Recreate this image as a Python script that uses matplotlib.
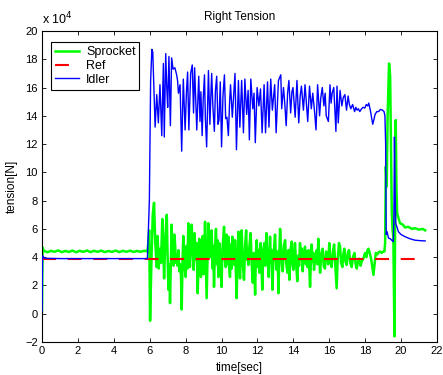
import matplotlib
matplotlib.use('Agg')
import matplotlib.pyplot as plt
import numpy as np

plt.rcParams['font.family'] = ['Liberation Sans', 'DejaVu Sans']

# tension values in units of 1e4 N
sprocket_pts = [
    (0.0, 0.2), (0.03, 4.7), (0.1, 4.45), (0.3, 4.35), (0.5, 4.45), (0.7, 4.38), (0.9, 4.48),
    (1.1, 4.36), (1.3, 4.44), (1.5, 4.37), (1.7, 4.47), (1.9, 4.35), (2.1, 4.45), (2.3, 4.38),
    (2.5, 4.47), (2.7, 4.36), (2.9, 4.45), (3.1, 4.38), (3.3, 4.46), (3.5, 4.36), (3.7, 4.44),
    (3.9, 4.37), (4.1, 4.47), (4.3, 4.36), (4.5, 4.45), (4.7, 4.38), (4.9, 4.46), (5.1, 4.37),
    (5.3, 4.44), (5.5, 4.38), (5.7, 4.46), (5.87, 4.4),
    (5.92, 5.0), (5.97, 5.9), (6.02, -0.5), (6.1, 4.0), (6.17, 7.0), (6.24, 7.85), (6.31, 5.0),
    (6.39, 3.3), (6.44, 5.5), (6.5, 3.2), (6.57, 4.6), (6.63, 3.6), (6.7, 6.7), (6.76, 4.5),
    (6.8, 2.5), (6.87, 5.4), (6.95, 7.0), (7.0, 3.8), (7.04, 1.7), (7.09, 3.5), (7.13, 0.75),
    (7.22, 6.3), (7.27, 4.0), (7.32, 3.4), (7.37, 5.6), (7.41, 5.0), (7.46, 3.6), (7.5, 4.2),
    (7.55, 3.4), (7.6, 4.5), (7.65, 3.0), (7.69, 3.5), (7.74, 2.8), (7.78, 0.3), (7.83, 3.8),
    (7.87, 5.5), (7.93, 3.5), (8.0, 2.6), (8.05, 4.8), (8.1, 3.2), (8.15, 6.4), (8.2, 4.5),
    (8.24, 3.3), (8.29, 5.0), (8.34, 6.3), (8.4, 4.2), (8.45, 3.1), (8.5, 5.7), (8.56, 3.8),
    (8.62, 5.0), (8.67, 1.45), (8.72, 3.5), (8.76, 5.3), (8.8, 4.5), (8.85, 2.6), (8.9, 3.3),
    (8.95, 5.5), (9.0, 2.8), (9.05, 4.6), (9.08, 6.5), (9.13, 3.5), (9.17, 1.1), (9.22, 4.0),
    (9.26, 6.4), (9.31, 4.8), (9.36, 4.0), (9.4, 5.0), (9.45, 5.9), (9.5, 3.2), (9.54, 4.8),
    (9.58, 1.9), (9.63, 4.5), (9.69, 6.0), (9.74, 3.5), (9.78, 5.2), (9.82, 2.6), (9.87, 5.0),
    (9.91, 4.2), (9.96, 3.0), (10.0, 1.9), (10.05, 4.6), (10.1, 5.4), (10.14, 6.15), (10.19, 3.8),
    (10.23, 3.3), (10.28, 5.6), (10.33, 3.5), (10.38, 5.45), (10.42, 3.4), (10.47, 2.6),
    (10.52, 4.9), (10.56, 3.2), (10.6, 5.45), (10.66, 4.2), (10.71, 3.45), (10.75, 5.2),
    (10.8, 2.9), (10.84, 1.1), (10.89, 4.0), (10.94, 5.8), (10.99, 3.6), (11.03, 2.5),
    (11.08, 4.6), (11.12, 5.9), (11.18, 3.6), (11.25, 2.4), (11.31, 4.8), (11.37, 5.9),
    (11.42, 3.8), (11.46, 4.6), (11.5, 3.45), (11.56, 4.9), (11.62, 5.7), (11.68, 3.5),
    (11.74, 2.2), (11.8, 4.3), (11.87, 1.35), (11.91, 4.0), (11.96, 5.2), (12.01, 3.3),
    (12.06, 4.5), (12.11, 2.9), (12.18, 5.0), (12.22, 3.5), (12.27, 1.7), (12.32, 4.4),
    (12.38, 5.0), (12.43, 3.4), (12.5, 5.7), (12.56, 3.9), (12.63, 2.6), (12.7, 5.45),
    (12.75, 3.6), (12.79, 4.5), (12.83, 1.7), (12.9, 4.2), (12.98, 5.6), (13.03, 3.8),
    (13.07, 3.1), (13.12, 4.4), (13.17, 1.45), (13.22, 4.2), (13.26, 6.0), (13.31, 4.6),
    (13.36, 3.5), (13.41, 3.0), (13.47, 4.8), (13.54, 5.2), (13.6, 3.6), (13.67, 2.9),
    (13.72, 4.5), (13.78, 2.4), (13.85, 4.6), (13.91, 5.1), (13.95, 3.6), (14.0, 3.1),
    (14.05, 4.2), (14.09, 5.0), (14.15, 3.6), (14.22, 2.3), (14.27, 4.1), (14.32, 3.4),
    (14.37, 5.0), (14.42, 3.8), (14.47, 4.6), (14.52, 3.0), (14.58, 4.2), (14.65, 4.75),
    (14.7, 3.5), (14.74, 4.4), (14.78, 3.3), (14.85, 4.5), (14.93, 1.9), (14.98, 3.9),
    (15.02, 4.9), (15.07, 3.7), (15.11, 4.3), (15.15, 3.1), (15.22, 4.1), (15.3, 4.5),
    (15.34, 3.5), (15.39, 5.3), (15.44, 3.9), (15.49, 2.9), (15.55, 4.2), (15.63, 4.6),
    (15.69, 3.4), (15.76, 3.2), (15.82, 4.4), (15.89, 4.2), (15.94, 3.5), (16.0, 5.0),
    (16.06, 3.7), (16.13, 3.3), (16.2, 4.4), (16.27, 4.9), (16.33, 3.6), (16.41, 1.8),
    (16.47, 3.9), (16.54, 5.0), (16.6, 4.75), (16.66, 3.6), (16.73, 3.3), (16.78, 4.2),
    (16.84, 4.6), (16.9, 3.7), (16.97, 3.45), (17.03, 4.3), (17.1, 4.5), (17.17, 3.6),
    (17.25, 3.3), (17.32, 4.0), (17.4, 4.3), (17.47, 3.5), (17.53, 3.2), (17.6, 3.7),
    (17.66, 3.9), (17.74, 3.4), (17.81, 3.7), (17.9, 3.9), (17.99, 4.3), (18.07, 4.0),
    (18.13, 4.5), (18.18, 4.6), (18.25, 4.3), (18.33, 3.9), (18.4, 3.3), (18.46, 2.75),
    (18.53, 3.6), (18.59, 4.3), (18.68, 4.2), (18.75, 4.35), (18.83, 4.4), (18.92, 4.3),
    (19.0, 4.4), (19.07, 4.4), (19.11, 5.0), (19.15, 10.4), (19.2, 9.0), (19.25, 14.0),
    (19.33, 17.7), (19.39, 16.8), (19.48, 7.3), (19.52, 6.0), (19.57, 5.4), (19.63, -1.6),
    (19.7, 13.7), (19.74, 9.0), (19.78, 7.1), (19.85, 6.8), (19.94, 6.4), (20.1, 6.3),
    (20.22, 6.1), (20.4, 6.15), (20.6, 6.0), (20.78, 6.05), (21.0, 5.95), (21.2, 6.0),
    (21.34, 5.9),
]

ref_pts = [(0.0, 3.9), (21.0, 3.9)]

idler_pts = [
    (0.0, 0.2), (0.03, 4.1), (0.15, 3.92), (1.0, 3.9), (5.87, 3.9), (5.98, 8.0), (6.05, 16.5),
    (6.12, 18.7), (6.17, 18.5), (6.23, 16.0), (6.3, 13.2), (6.39, 15.5), (6.48, 13.5),
    (6.57, 16.2), (6.67, 12.6), (6.76, 17.7), (6.81, 12.5), (6.89, 18.4), (6.95, 16.0),
    (7.0, 14.6), (7.07, 18.2), (7.15, 13.3), (7.22, 18.1), (7.3, 17.3), (7.4, 17.4),
    (7.5, 16.9), (7.55, 16.5), (7.6, 15.6), (7.69, 16.2), (7.78, 11.5), (7.87, 16.6),
    (7.97, 13.0), (8.05, 15.8), (8.11, 17.1), (8.18, 13.0), (8.28, 17.0), (8.37, 17.6),
    (8.44, 14.2), (8.5, 17.4), (8.62, 13.0), (8.73, 16.8), (8.8, 13.6), (8.85, 15.7),
    (8.92, 12.6), (8.98, 15.2), (9.05, 16.9), (9.1, 13.8), (9.17, 11.8), (9.27, 17.2),
    (9.35, 13.4), (9.45, 17.0), (9.52, 14.6), (9.6, 12.9), (9.66, 15.8), (9.73, 16.8),
    (9.8, 13.4), (9.86, 13.7), (9.93, 16.4), (10.0, 11.8), (10.08, 15.4), (10.16, 16.9),
    (10.23, 13.8), (10.3, 13.9), (10.38, 12.6), (10.45, 15.0), (10.5, 16.2), (10.6, 13.9),
    (10.68, 15.6), (10.75, 17.0), (10.83, 11.6), (10.94, 16.5), (11.02, 13.2), (11.12, 16.5),
    (11.22, 12.8), (11.3, 16.6), (11.4, 14.1), (11.48, 15.8), (11.55, 12.3), (11.63, 16.6),
    (11.74, 14.5), (11.81, 15.6), (11.88, 12.1), (11.98, 16.0), (12.08, 14.7), (12.17, 15.9),
    (12.26, 12.8), (12.37, 16.2), (12.45, 12.8), (12.56, 16.4), (12.64, 13.2), (12.74, 16.6),
    (12.83, 14.4), (12.9, 15.4), (12.96, 16.2), (13.04, 12.8), (13.17, 16.5), (13.3, 16.9),
    (13.35, 14.5), (13.45, 16.0), (13.52, 14.9), (13.6, 13.3), (13.68, 15.6), (13.75, 16.5),
    (13.85, 14.2), (13.92, 15.7), (13.98, 16.0), (14.1, 13.9), (14.2, 16.5), (14.3, 13.5),
    (14.38, 15.4), (14.45, 16.1), (14.56, 14.4), (14.65, 16.2), (14.72, 15.0), (14.8, 13.6),
    (14.9, 16.1), (15.0, 14.5), (15.08, 15.6), (15.18, 14.3), (15.26, 13.0), (15.35, 16.2),
    (15.46, 14.0), (15.53, 15.3), (15.61, 16.0), (15.7, 14.7), (15.77, 15.6), (15.83, 14.0),
    (15.95, 13.6), (16.04, 16.2), (16.1, 14.9), (16.16, 15.6), (16.25, 16.0), (16.37, 12.9),
    (16.43, 16.1), (16.5, 13.5), (16.6, 15.8), (16.7, 14.7), (16.78, 15.3), (16.87, 15.5),
    (16.96, 14.4), (17.05, 15.4), (17.12, 14.8), (17.2, 14.5), (17.3, 14.8), (17.41, 14.3),
    (17.48, 14.6), (17.55, 14.4), (17.62, 14.5), (17.7, 14.3), (17.8, 14.5), (17.88, 14.6),
    (17.98, 14.55), (18.06, 14.8), (18.14, 14.7), (18.2, 14.9), (18.3, 14.3), (18.42, 13.4),
    (18.5, 13.8), (18.55, 14.1), (18.65, 14.3), (18.75, 14.3), (18.85, 14.45), (18.97, 14.4),
    (19.05, 14.3), (19.1, 14.0), (19.14, 12.0), (19.17, 5.6), (19.22, 5.8), (19.3, 5.35),
    (19.4, 5.3), (19.48, 5.2), (19.57, 5.1), (19.6, 7.0), (19.63, 12.5), (19.67, 8.5),
    (19.7, 6.4), (19.78, 6.1), (19.85, 5.8), (20.0, 5.6), (20.22, 5.45), (20.5, 5.3),
    (20.78, 5.2), (21.05, 5.17), (21.34, 5.15),
]

x_ticks = list(range(0, 23, 2))
y_ticks = list(range(-2, 21, 2))

spr = np.array(sprocket_pts)
ref = np.array(ref_pts)
idl = np.array(idler_pts)

fig = plt.figure(figsize=(4.43, 3.75), dpi=100)
ax = fig.add_axes([42 / 443, 33 / 375, 395 / 443, 311 / 375])

ax.plot(spr[:, 0], spr[:, 1], color='#00ff00', lw=1.8, label='Sprocket', zorder=2)
ax.plot(ref[:, 0], ref[:, 1], color='#ff0000', lw=1.5, dashes=(6.7, 5.6), label='Ref', zorder=3)
ax.plot(idl[:, 0], idl[:, 1], color='#0000ff', lw=1.0, label='Idler', zorder=4)

ax.set_xlim(0, 22)
ax.set_ylim(-2, 20)
ax.set_xticks(x_ticks)
ax.set_yticks(y_ticks)
ax.tick_params(direction='in', top=True, right=True, length=3, width=0.6,
               labelsize=8, pad=3)
for sp in ax.spines.values():
    sp.set_linewidth(0.8)

ax.set_title('Right Tension', fontsize=8.5, pad=8)
ax.set_xlabel('time[sec]', fontsize=8.5, labelpad=4)
ax.set_ylabel('tension[N]', fontsize=8.5, labelpad=5)
ax.text(0, 1.013, r'x 10$^{4}$', transform=ax.transAxes, ha='left', va='bottom', fontsize=9)

leg = ax.legend(loc='upper left', bbox_to_anchor=(0.0228, 0.9636), borderaxespad=0,
                fontsize=9, handlelength=1.9, handletextpad=0.6, labelspacing=0.15,
                borderpad=0.3, fancybox=False, framealpha=1, edgecolor='black')
leg.get_frame().set_linewidth(0.8)

fig.savefig('out.png', dpi=100)
